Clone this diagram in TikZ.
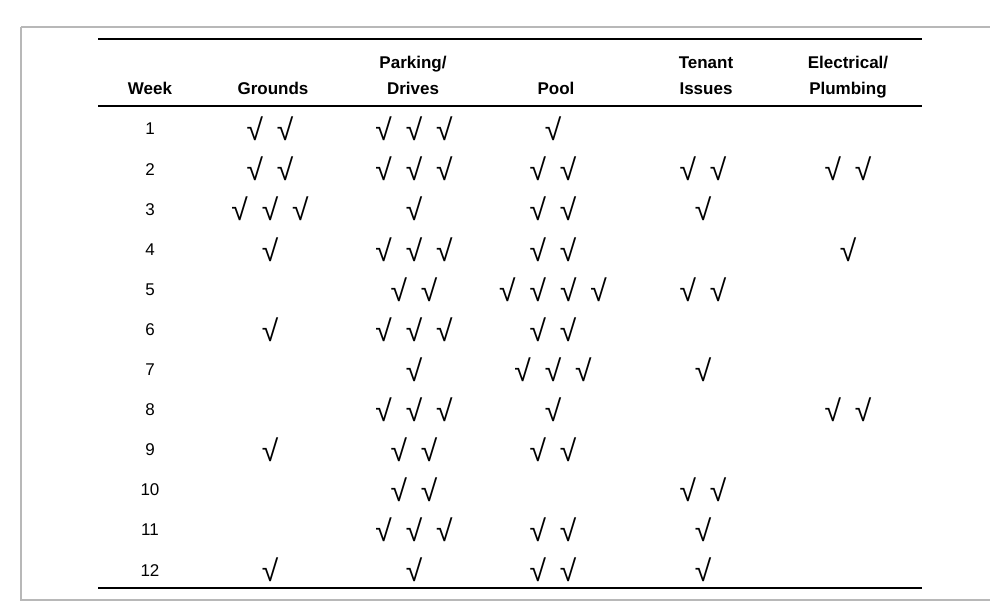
\documentclass[tikz,border=0pt]{standalone}
\usepackage{fontspec}
\setmainfont{Liberation Sans}
\newcommand{\mychecks}[1]{\ifcase#1\or √\or √\hspace{14pt}√\or √\hspace{14pt}√\hspace{14pt}√\or √\hspace{14pt}√\hspace{14pt}√\hspace{14pt}√\fi}
\begin{document}
\begin{tikzpicture}[x=1pt,y=-1pt,
  hdr/.style={font=\fontsize{17}{20}\selectfont\bfseries, align=center, anchor=base},
  num/.style={font=\fontsize{17}{20}\selectfont},
  chk/.style={font=\fontsize{30}{30}\selectfont, inner sep=0pt}]
\useasboundingbox (0,0) rectangle (990,610);
\draw[draw=black!28, line width=1.5pt] (21,27) -- (21,600) -- (992,600);
\draw[draw=black!28, line width=1.5pt] (21,27) -- (992,27);
\draw[line width=1.5pt] (98,39) -- (922,39);
\draw[line width=2.5pt] (98,106) -- (922,106);
\draw[line width=2pt] (98,588) -- (922,588);
\node[hdr] (h0) at (150,94) {Week};
\node[hdr] (h1) at (273,94) {Grounds};
\node[hdr] (h2) at (413,94) {Drives};
\node[hdr] (h2b) at (413,68) {Parking/};
\node[hdr] (h3) at (556,94) {Pool};
\node[hdr] (h4) at (706,94) {Issues};
\node[hdr] (h4b) at (706,68) {Tenant};
\node[hdr] (h5) at (848,94) {Plumbing};
\node[hdr] (h5b) at (848,68) {Electrical/};
\foreach \r/\a/\b/\c/\d/\e in {1/2/3/1/0/0,2/2/3/2/2/2,3/3/1/2/1/0,4/1/3/2/0/1,5/0/2/4/2/0,6/1/3/2/0/0,7/0/1/3/1/0,8/0/3/1/0/2,9/1/2/2/0/0,10/0/2/0/2/0,11/0/3/2/1/0,12/1/1/2/1/0}{
  \pgfmathsetmacro{\yy}{129+(\r-1)*40.1}
  \node[num] (w\r) at (150,\yy) {\r};
  \node[chk] (g\r) at (270,\yy) {\mychecks{\a}};
  \node[chk] (p\r) at (414,\yy) {\mychecks{\b}};
  \node[chk] (o\r) at (553,\yy) {\mychecks{\c}};
  \node[chk] (t\r) at (703,\yy) {\mychecks{\d}};
  \node[chk] (e\r) at (848,\yy) {\mychecks{\e}};
}
\end{tikzpicture}
\end{document}
